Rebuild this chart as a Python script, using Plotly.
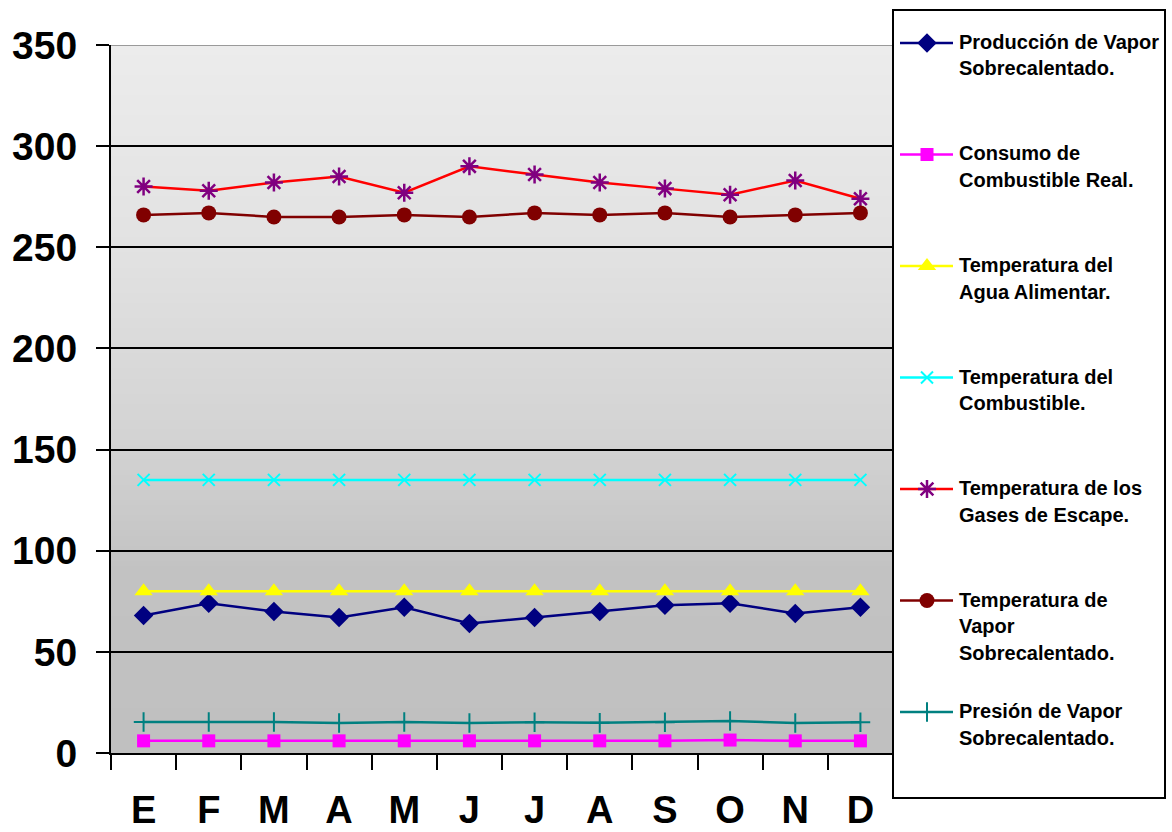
import plotly.graph_objects as go
import numpy as np

# --- data -------------------------------------------------------------
MESES = ["Enero", "Febrero", "Marzo", "Abril", "Mayo", "Junio", "Julio",
         "Agosto", "Septiembre", "Octubre", "Noviembre", "Diciembre"]
ETIQUETAS_MES = ["E", "F", "M", "A", "M", "J", "J", "A", "S", "O", "N", "D"]

produccion_vapor = [68, 74, 70, 67, 72, 64, 67, 70, 73, 74, 69, 72]
consumo_combustible = [6, 6, 6, 6, 6, 6, 6, 6, 6, 6.4, 6, 6]
temp_agua = [80, 80, 80, 80, 80, 80, 80, 80, 80, 80, 80, 80]
temp_combustible = [135, 135, 135, 135, 135, 135, 135, 135, 135, 135, 135, 135]
temp_gases = [280, 278, 282, 285, 277, 290, 286, 282, 279, 276, 283, 274]
temp_vapor = [266, 267, 265, 265, 266, 265, 267, 266, 267, 265, 266, 267]
presion_vapor = [15.3, 15.3, 15.3, 14.8, 15.3, 14.8, 15.2, 14.9, 15.2, 15.8, 14.8, 15.2]

Y_TICKS = [0, 50, 100, 150, 200, 250, 300, 350]

SERIES = [
    ("Producción de Vapor", "Sobrecalentado.", produccion_vapor),
    ("Consumo de", "Combustible Real.", consumo_combustible),
    ("Temperatura del", "Agua Alimentar.", temp_agua),
    ("Temperatura del", "Combustible.", temp_combustible),
    ("Temperatura de los", "Gases de Escape.", temp_gases),
    ("Temperatura de", "Vapor", "Sobrecalentado.", temp_vapor),
    ("Presión de Vapor", "Sobrecalentado.", presion_vapor),
]

# --- styles -----------------------------------------------------------
STYLES = [
    dict(line="#000080", marker=dict(symbol="diamond", size=15, color="#000080")),
    dict(line="#ff00ff", marker=dict(symbol="square", size=13, color="#ff00ff")),
    dict(line="#ffff00", marker=dict(symbol="triangle-up", size=16, color="#ffff00")),
    dict(line="#00ffff", marker=dict(symbol="x-thin-open", size=12, color="#00ffff",
                                     line=dict(color="#00ffff", width=2))),
    dict(line="#ff0000", marker=dict(symbol="asterisk-open", size=15, color="#800080",
                                     line=dict(color="#800080", width=2.5))),
    dict(line="#800000", marker=dict(symbol="circle", size=15, color="#800000")),
    dict(line="#008080", marker=dict(symbol="cross-thin-open", size=14, color="#008080",
                                     line=dict(color="#008080", width=2))),
]

FONT = "Arial, 'Liberation Sans', sans-serif"
W, H = 1172, 832
ML, MR, MT, MB = 111, 6, 10, 34
PW, PH = W - ML - MR, H - MT - MB


def px_x(p):
    return (p - ML) / PW


def px_y(p):
    return (H - MB - p) / PH


PLOT_RIGHT = 893
PLOT_TOP, PLOT_BOTTOM = 45, 753

fig = go.Figure()

for spec, st in zip(SERIES, STYLES):
    vals = spec[-1]
    fig.add_trace(go.Scatter(
        x=MESES, y=vals, mode="lines+markers",
        line=dict(color=st["line"], width=2.5),
        marker=st["marker"], showlegend=False,
        xaxis="x", yaxis="y",
    ))

# --- legend box drawn on its own pixel-scaled axes ---------------------
LEG_Y0, LEG_STEP = 43, 111.5
LINE_GAP = 26.5
annotations = []
for i, (spec, st) in enumerate(zip(SERIES, STYLES)):
    yy = LEG_Y0 + i * LEG_STEP
    fig.add_trace(go.Scatter(
        x=[900, 953], y=[yy, yy], mode="lines",
        line=dict(color=st["line"], width=2.5),
        showlegend=False, hoverinfo="skip", xaxis="x2", yaxis="y2",
    ))
    fig.add_trace(go.Scatter(
        x=[927], y=[yy], mode="markers", marker=st["marker"],
        showlegend=False, hoverinfo="skip", xaxis="x2", yaxis="y2",
    ))
    for j, txt in enumerate(spec[:-1]):
        annotations.append(dict(
            x=px_x(957), y=px_y(yy + j * LINE_GAP - 1), xref="paper", yref="paper",
            text=txt, showarrow=False, xanchor="left", yanchor="middle",
            font=dict(family=FONT, size=20, color="black", weight="bold"),
        ))

# --- background gradient bands ----------------------------------------
grad_v = [0, 90, 150, 250, 350]
grad_c = [192, 194, 210, 226, 236]
shapes = []
step = 2.5
for v0 in np.arange(0, 350, step):
    g = int(round(np.interp(v0 + step / 2, grad_v, grad_c)))
    shapes.append(dict(
        type="rect", xref="x domain", yref="y", x0=0, x1=1,
        y0=v0, y1=min(v0 + 2 * step, 350),
        fillcolor=f"rgb({g},{g},{g})", line=dict(width=0), layer="below",
    ))

# top edge of plot area
shapes.append(dict(type="line", xref="x domain", yref="y", x0=0, x1=1, y0=350, y1=350,
                   line=dict(color="#9a9a9a", width=2), layer="above"))
# legend frame
shapes.append(dict(type="rect", xref="paper", yref="paper",
                   x0=px_x(893), x1=px_x(1165), y0=px_y(10), y1=px_y(798),
                   line=dict(color="black", width=2), fillcolor="rgba(0,0,0,0)"))

tick_font = dict(family=FONT, size=39, color="black", weight="bold")
month_font = dict(family=FONT, size=38, color="black", weight="bold")

fig.update_layout(
    width=W, height=H,
    margin=dict(l=ML, r=MR, t=MT, b=MB, pad=0, autoexpand=False),
    paper_bgcolor="white", plot_bgcolor="rgba(0,0,0,0)",
    showlegend=False,
    xaxis=dict(
        domain=[0, px_x(PLOT_RIGHT)], type="category",
        categoryorder="array", categoryarray=MESES,
        tickvals=MESES, ticktext=ETIQUETAS_MES, tickson="boundaries",
        ticks="outside", ticklen=15, tickwidth=2, tickcolor="black",
        showline=True, linecolor="black", linewidth=2,
        showgrid=False, zeroline=False, tickfont=month_font,
        ticklabelstandoff=22, range=[-0.5, 11.5], anchor="y", automargin=False,
    ),
    yaxis=dict(
        domain=[px_y(PLOT_BOTTOM), px_y(PLOT_TOP)], range=[0, 350],
        tickvals=Y_TICKS, ticks="outside", ticklen=13, tickwidth=2, tickcolor="black",
        showline=True, linecolor="black", linewidth=2,
        showgrid=True, gridcolor="black", gridwidth=1.5,
        zeroline=False, tickfont=tick_font, ticklabelstandoff=11, anchor="x",
        automargin=False,
    ),
    xaxis2=dict(domain=[px_x(893), 1], range=[893, W - MR], visible=False,
                anchor="y2", fixedrange=True, automargin=False),
    yaxis2=dict(domain=[0, 1], range=[H - MB, MT], visible=False,
                anchor="x2", fixedrange=True, automargin=False),
    shapes=shapes,
    annotations=annotations,
)

fig.write_html("out.html")
